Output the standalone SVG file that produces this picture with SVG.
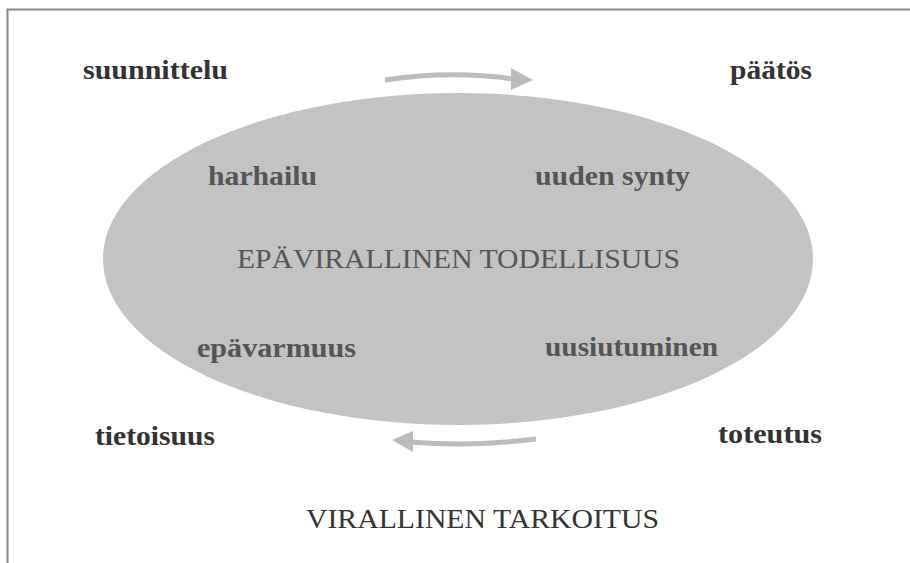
<svg xmlns="http://www.w3.org/2000/svg" width="910" height="563" viewBox="0 0 910 563">
<style>
.b{font-family:"Liberation Serif","Times New Roman",serif;font-weight:bold;font-size:28px}
.o{fill:#333}
.i{fill:#555}
.n{font-family:"Liberation Serif","Times New Roman",serif;font-size:27px}
.arr{fill:none;stroke:#bcbcbc;stroke-width:5}
.head{fill:#bcbcbc}
</style>
<rect width="910" height="563" fill="#fff"/>
<path d="M7.5 563 V9.5 H910" fill="none" stroke="#888" stroke-width="2"/>
<g id="ellipse"><ellipse cx="458" cy="259" rx="355" ry="166" fill="#c3c3c3"/></g>
<g id="connectors">
<path class="arr" d="M385 80 Q450 70 514 79"/>
<polygon class="head" points="511,68 533,80 511,90"/>
<path class="arr" d="M536 439 Q470 447 410 442"/>
<polygon class="head" points="413,431 392,440 413,452"/>
</g>
<g id="suunnittelu"><text class="b o" x="83" y="79" textLength="145" lengthAdjust="spacingAndGlyphs">suunnittelu</text></g>
<g id="paatos"><text class="b o" x="730" y="79" textLength="82" lengthAdjust="spacingAndGlyphs">päätös</text></g>
<g id="harhailu"><text class="b i" x="208" y="185" textLength="109" lengthAdjust="spacingAndGlyphs">harhailu</text></g>
<g id="uuden-synty"><text class="b i" x="535" y="185" textLength="155" lengthAdjust="spacingAndGlyphs">uuden synty</text></g>
<g id="epavirallinen"><text class="n i" x="237" y="268" textLength="443" lengthAdjust="spacingAndGlyphs">EPÄVIRALLINEN TODELLISUUS</text></g>
<g id="epavarmuus"><text class="b i" x="197" y="357" textLength="159" lengthAdjust="spacingAndGlyphs">epävarmuus</text></g>
<g id="uusiutuminen"><text class="b i" x="545" y="356" textLength="173" lengthAdjust="spacingAndGlyphs">uusiutuminen</text></g>
<g id="tietoisuus"><text class="b o" x="95" y="445" textLength="120" lengthAdjust="spacingAndGlyphs">tietoisuus</text></g>
<g id="toteutus"><text class="b o" x="718" y="443" textLength="104" lengthAdjust="spacingAndGlyphs">toteutus</text></g>
<g id="virallinen"><text class="n o" x="306" y="528" textLength="353" lengthAdjust="spacingAndGlyphs">VIRALLINEN TARKOITUS</text></g>
</svg>
